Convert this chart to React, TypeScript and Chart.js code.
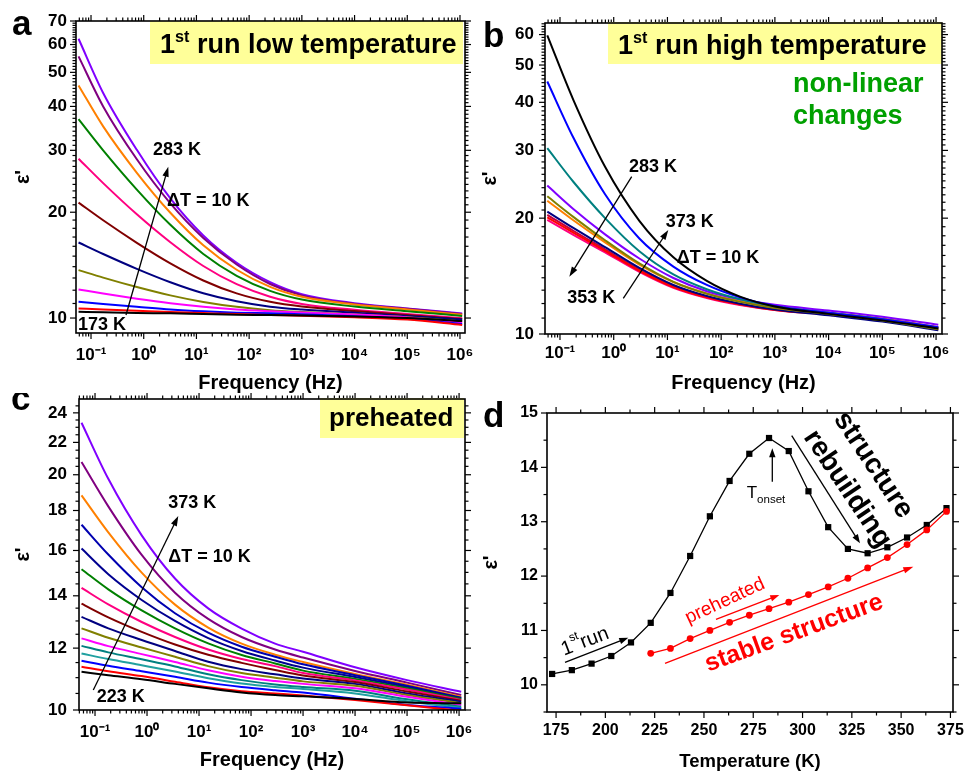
import React, { useEffect, useRef } from "react";
import { Chart, registerables } from "chart.js";
Chart.register(...registerables);

const FONT = "'Liberation Sans', Arial, Helvetica, sans-serif";

// ---------------- Panel a : 1st run low temperature (173 K .. 283 K) ----------------
const freqA = [0.058, 0.17, 0.74, 3.2, 13.5, 58, 250, 1000, 1e4, 1e5, 1.1e6];
const a173 = [10.42, 10.38, 10.33, 10.31, 10.26, 10.22, 10.2, 10.17, 10.1, 10.0, 9.8];
const a183 = [10.65, 10.58, 10.49, 10.4, 10.33, 10.26, 10.2, 10.15, 10.05, 9.9, 9.55];
const a193 = [11.13, 10.96, 10.77, 10.58, 10.45, 10.36, 10.31, 10.25, 10.12, 9.95, 9.62];
const a203 = [12.06, 11.74, 11.35, 11.02, 10.77, 10.58, 10.46, 10.37, 10.23, 10.04, 9.72];
const a213 = [13.69, 13.03, 12.25, 11.6, 11.11, 10.76, 10.53, 10.4, 10.24, 10.05, 9.78];
const a223 = [16.4, 15.21, 13.8, 12.64, 11.76, 11.16, 10.77, 10.57, 10.35, 10.14, 9.9];
const a233 = [21.3, 18.97, 16.37, 14.31, 12.79, 11.75, 11.12, 10.78, 10.47, 10.2, 9.94];
const a243 = [28.4, 24.2, 19.73, 16.43, 14.06, 12.48, 11.5, 10.97, 10.55, 10.26, 9.99];
const a253 = [36.8, 30.0, 23.2, 18.42, 15.22, 13.19, 11.95, 11.29, 10.78, 10.46, 10.14];
const a263 = [45.9, 35.1, 25.9, 19.93, 16.1, 13.72, 12.26, 11.49, 10.92, 10.58, 10.22];
const a273 = [55.5, 40.0, 28.3, 21.2, 16.9, 14.2, 12.5, 11.6, 10.97, 10.62, 10.27];
const a283 = [62.3, 43.7, 30.1, 21.9, 17.18, 14.36, 12.65, 11.69, 11.02, 10.65, 10.3];
const seriesA = [a173, a183, a193, a203, a213, a223, a233, a243, a253, a263, a273, a283];
const labelsA = ["173 K", "183 K", "193 K", "203 K", "213 K", "223 K", "233 K", "243 K", "253 K", "263 K", "273 K", "283 K"];
const colorsA = ["#000000", "#FF0000", "#0000FF", "#FF00FF", "#808000", "#000080", "#800000", "#FF0080", "#008000", "#FF8000", "#800080", "#8000FF"];

// ---------------- Panel b : 1st run high temperature (283 K .. 373 K) ----------------
const freqB = [0.058, 0.177, 0.69, 3, 12.9, 54, 224, 1000, 1e4, 1e5, 1.1e6];
const b283 = [59.7, 40.6, 27.2, 19.69, 15.82, 13.74, 12.51, 11.79, 11.28, 10.85, 10.34];
const b293 = [45.3, 32.4, 23.07, 17.71, 14.97, 13.41, 12.45, 11.83, 11.35, 10.92, 10.41];
const b303 = [30.4, 24.87, 20.01, 16.41, 14.28, 13.07, 12.31, 11.81, 11.35, 10.92, 10.36];
const b313 = [24.3, 21.13, 18.15, 15.71, 13.98, 12.92, 12.31, 11.91, 11.51, 11.09, 10.57];
const b323 = [22.8, 20.16, 17.52, 15.25, 13.66, 12.72, 12.12, 11.69, 11.27, 10.84, 10.28];
const b333 = [22.2, 19.75, 17.3, 15.15, 13.65, 12.75, 12.18, 11.77, 11.37, 10.95, 10.42];
const b343 = [20.8, 18.86, 16.82, 14.85, 13.41, 12.55, 11.99, 11.57, 11.18, 10.77, 10.22];
const b353 = [20.1, 18.35, 16.45, 14.6, 13.25, 12.45, 11.93, 11.55, 11.22, 10.83, 10.28];
const b363 = [19.8, 18.1, 16.3, 14.5, 13.18, 12.4, 11.9, 11.55, 11.27, 10.9, 10.35];
const b373 = [20.4, 18.55, 16.6, 14.7, 13.33, 12.5, 11.97, 11.6, 11.33, 10.95, 10.4];
const seriesB = [b283, b293, b303, b313, b323, b333, b343, b353, b363, b373];
const labelsB = ["283 K", "293 K", "303 K", "313 K", "323 K", "333 K", "343 K", "353 K", "363 K", "373 K"];
const colorsB = ["#000000", "#0000FF", "#008080", "#8000FF", "#808000", "#FF8000", "#000080", "#FF0000", "#FF0080", "#C00040"];

// ---------------- Panel c : preheated (223 K .. 373 K) ----------------
const freqC = [0.055, 0.18, 0.79, 3.45, 15, 66, 290, 1000, 1e4, 1e5, 1.1e6];
const c223 = [11.19, 11.08, 10.95, 10.8, 10.66, 10.53, 10.45, 10.41, 10.33, 10.22, 10.2];
const c233 = [11.36, 11.21, 11.05, 10.87, 10.69, 10.57, 10.5, 10.44, 10.3, 10.14, 9.98];
const c243 = [11.56, 11.39, 11.21, 11.03, 10.84, 10.7, 10.6, 10.53, 10.34, 10.15, 10.04];
const c253 = [11.81, 11.62, 11.41, 11.2, 10.98, 10.81, 10.7, 10.64, 10.5, 10.26, 10.06];
const c263 = [12.08, 11.85, 11.61, 11.37, 11.11, 10.92, 10.78, 10.7, 10.58, 10.32, 10.1];
const c273 = [12.35, 12.07, 11.79, 11.52, 11.24, 11.03, 10.89, 10.8, 10.66, 10.4, 10.15];
const c283 = [12.72, 12.37, 12.02, 11.7, 11.38, 11.15, 11.0, 10.88, 10.74, 10.45, 10.2];
const c293 = [13.16, 12.72, 12.29, 11.9, 11.53, 11.28, 11.11, 10.97, 10.8, 10.5, 10.25];
const c303 = [13.68, 13.14, 12.59, 12.13, 11.77, 11.49, 11.25, 11.07, 10.86, 10.56, 10.28];
const c313 = [14.33, 13.65, 12.96, 12.4, 11.95, 11.62, 11.38, 11.15, 10.91, 10.62, 10.3];
const c323 = [15.14, 14.27, 13.41, 12.72, 12.17, 11.76, 11.47, 11.23, 10.96, 10.66, 10.33];
const c333 = [16.09, 14.92, 13.83, 13.0, 12.36, 11.9, 11.57, 11.33, 11.02, 10.7, 10.35];
const c343 = [17.26, 15.81, 14.36, 13.3, 12.56, 12.05, 11.7, 11.44, 11.08, 10.74, 10.37];
const c353 = [18.82, 16.88, 14.99, 13.64, 12.75, 12.16, 11.77, 11.52, 11.12, 10.77, 10.4];
const c363 = [20.76, 18.22, 15.79, 14.13, 13.08, 12.4, 11.95, 11.67, 11.22, 10.84, 10.45];
const c373 = [23.31, 19.76, 16.73, 14.73, 13.49, 12.71, 12.16, 11.87, 11.34, 10.92, 10.55];
const seriesC = [c223, c233, c243, c253, c263, c273, c283, c293, c303, c313, c323, c333, c343, c353, c363, c373];
const labelsC = ["223 K", "233 K", "243 K", "253 K", "263 K", "273 K", "283 K", "293 K", "303 K", "313 K", "323 K", "333 K", "343 K", "353 K", "363 K", "373 K"];
const colorsC = ["#000000", "#FF0000", "#0000FF", "#20A0A0", "#008080", "#FF00FF", "#808000", "#000080", "#800000", "#FF0080", "#008000", "#000090", "#0000B0", "#FF8000", "#800080", "#8000FF"];

// ---------------- Panel d : eps' vs temperature ----------------
const tempFirstRun = [173, 183, 193, 203, 213, 223, 233, 243, 253, 263, 273, 283, 293, 303, 313, 323, 333, 343, 353, 363, 373];
const epsFirstRun = [10.2, 10.27, 10.39, 10.53, 10.78, 11.14, 11.69, 12.37, 13.1, 13.75, 14.25, 14.54, 14.3, 13.56, 12.9, 12.5, 12.42, 12.53, 12.71, 12.94, 13.25];
const tempPreheated = [223, 233, 243, 253, 263, 273, 283, 293, 303, 313, 323, 333, 343, 353, 363, 373];
const epsPreheated = [10.58, 10.67, 10.85, 11.0, 11.15, 11.28, 11.4, 11.52, 11.66, 11.8, 11.96, 12.15, 12.34, 12.58, 12.85, 13.19];

// ---------------- Tick values / labels ----------------
const xTickExps = [-1, 0, 1, 2, 3, 4, 5, 6];
const supMap: Record<string, string> = { "-": "\u207B", "0": "\u2070", "1": "\u00B9", "2": "\u00B2", "3": "\u00B3", "4": "\u2074", "5": "\u2075", "6": "\u2076", "7": "\u2077", "8": "\u2078", "9": "\u2079" };
const xTickVals = xTickExps.map((e) => Math.pow(10, e));
const xTickLabels = xTickExps.map((e) => "10" + String(e).split("").map((c) => supMap[c]).join(""));
const yTicksA = [10, 20, 30, 40, 50, 60, 70];
const yTicksB = [10, 20, 30, 40, 50, 60];
const yTicksC = [10, 12, 14, 16, 18, 20, 22, 24];
const xTicksD = [175, 200, 225, 250, 275, 300, 325, 350, 375];
const yTicksD = [10, 11, 12, 13, 14, 15];

function logMinor(min: number, max: number): number[] {
  const out: number[] = [];
  for (let e = -3; e <= 7; e++)
    for (let m = 2; m <= 9; m++) {
      const v = m * Math.pow(10, e);
      if (v > min && v < max) out.push(v);
    }
  return out;
}
function stepTicks(from: number, to: number, step: number, skip: number[]): number[] {
  const out: number[] = [];
  for (let v = from; v <= to + 1e-9; v += step) {
    const r = Math.round(v * 1000) / 1000;
    if (!skip.some((s) => Math.abs(s - r) < 1e-6)) out.push(r);
  }
  return out;
}

// ---------------- Annotation drawing plugin ----------------
type Seg = { t: string; s?: number; dy?: number };
type Ann = any;

function drawText(ctx: CanvasRenderingContext2D, a: Ann, ox: number, oy: number) {
  const w = a.weight || "bold";
  const widths = a.segs.map((s: Seg) => {
    ctx.font = `${w} ${a.size * (s.s ?? 1)}px ${FONT}`;
    return ctx.measureText(s.t).width;
  });
  const total = widths.reduce((p: number, c: number) => p + c, 0);
  ctx.save();
  ctx.translate(a.x - ox, a.y - oy);
  if (a.rot) ctx.rotate((a.rot * Math.PI) / 180);
  ctx.fillStyle = a.color || "#000";
  ctx.textBaseline = a.base || "alphabetic";
  ctx.textAlign = "left";
  let cx = a.align === "center" ? -total / 2 : 0;
  a.segs.forEach((s: Seg, i: number) => {
    ctx.font = `${w} ${a.size * (s.s ?? 1)}px ${FONT}`;
    ctx.fillText(s.t, cx, (s.dy || 0) * a.size);
    cx += widths[i];
  });
  ctx.restore();
}

function drawArrow(ctx: CanvasRenderingContext2D, a: Ann, ox: number, oy: number) {
  const x1 = a.x1 - ox, y1 = a.y1 - oy, x2 = a.x2 - ox, y2 = a.y2 - oy;
  const ang = Math.atan2(y2 - y1, x2 - x1);
  const hl = a.head ?? 10, hw = a.hw ?? 3.2;
  const bx = x2 - hl * Math.cos(ang), by = y2 - hl * Math.sin(ang);
  ctx.save();
  ctx.strokeStyle = a.color || "#000";
  ctx.fillStyle = a.color || "#000";
  ctx.lineWidth = a.lw ?? 1.3;
  ctx.beginPath();
  ctx.moveTo(x1, y1);
  ctx.lineTo(bx + 1 * Math.cos(ang), by + 1 * Math.sin(ang));
  ctx.stroke();
  ctx.beginPath();
  ctx.moveTo(x2, y2);
  ctx.lineTo(bx + hw * Math.sin(ang), by - hw * Math.cos(ang));
  ctx.lineTo(bx - hw * Math.sin(ang), by + hw * Math.cos(ang));
  ctx.closePath();
  ctx.fill();
  ctx.restore();
}

const framePlugin = {
  id: "frame",
  afterDraw(chart: any, _args: any, opts: any) {
    const ctx: CanvasRenderingContext2D = chart.ctx;
    const ca = chart.chartArea;
    const xs = chart.scales.x, ys = chart.scales.y;
    const ox = opts.ox || 0, oy = opts.oy || 0;
    ctx.save();
    ctx.strokeStyle = "#000";
    ctx.lineWidth = 1.2;
    const seg = (x1: number, y1: number, x2: number, y2: number) => {
      ctx.beginPath();
      ctx.moveTo(x1, y1);
      ctx.lineTo(x2, y2);
      ctx.stroke();
    };
    const xt = (vals: number[], len: number) =>
      vals.forEach((v) => {
        const p = xs.getPixelForValue(v);
        if (p < ca.left - 0.5 || p > ca.right + 0.5) return;
        seg(p, ca.bottom, p, ca.bottom + len);
        seg(p, ca.top, p, ca.top - len);
      });
    const yt = (vals: number[], len: number) =>
      vals.forEach((v) => {
        const p = ys.getPixelForValue(v);
        if (p < ca.top - 0.5 || p > ca.bottom + 0.5) return;
        seg(ca.left, p, ca.left - len, p);
        seg(ca.right, p, ca.right + len, p);
      });
    xt(opts.xMajor, 6);
    xt(opts.xMinor, 3.5);
    yt(opts.yMajor, 6);
    yt(opts.yMinor, 3.5);
    const anns: Ann[] = opts.ann || [];
    anns.forEach((a) => {
      if (a.kind === "rect") {
        ctx.fillStyle = a.fill;
        ctx.fillRect(a.x - ox, a.y - oy, a.w, a.h);
      }
    });
    ctx.lineWidth = 1.6;
    ctx.strokeRect(ca.left, ca.top, ca.right - ca.left, ca.bottom - ca.top);
    anns.forEach((a) => {
      if (a.kind === "arrow") drawArrow(ctx, a, ox, oy);
      if (a.kind === "text") drawText(ctx, a, ox, oy);
    });
    ctx.restore();
  },
};

const K = (t: string) => [{ t }];
const first = (rest: string): Seg[] => [{ t: "1" }, { t: "st", s: 0.6, dy: -0.42 }, { t: rest }];

const annA: Ann[] = [
  { kind: "rect", x: 150, y: 21, w: 313, h: 43, fill: "#FFFF99" },
  { kind: "text", x: 160, y: 53, size: 27, segs: first(" run low temperature") },
  { kind: "text", x: 12, y: 35, size: 35, segs: K("a") },
  { kind: "arrow", x1: 126, y1: 315, x2: 168.3, y2: 166.7 },
  { kind: "text", x: 153, y: 155, size: 18, segs: K("283 K") },
  { kind: "text", x: 167, y: 206, size: 18, segs: K("\u0394T = 10 K") },
  { kind: "text", x: 78, y: 330, size: 18, segs: K("173 K") },
];
const annB: Ann[] = [
  { kind: "rect", x: 608, y: 22, w: 334, h: 42, fill: "#FFFF99" },
  { kind: "text", x: 618, y: 54.3, size: 27, segs: first(" run high temperature") },
  { kind: "text", x: 483, y: 46.7, size: 35, segs: K("b") },
  { kind: "text", x: 793, y: 91.7, size: 27, color: "#00A000", segs: K("non-linear") },
  { kind: "text", x: 793, y: 124, size: 27, color: "#00A000", segs: K("changes") },
  { kind: "text", x: 629, y: 171.7, size: 18, segs: K("283 K") },
  { kind: "arrow", x1: 631.7, y1: 176.7, x2: 569.3, y2: 276.7 },
  { kind: "text", x: 665.7, y: 226.7, size: 18, segs: K("373 K") },
  { kind: "arrow", x1: 623.3, y1: 298.3, x2: 668.3, y2: 230 },
  { kind: "text", x: 676.7, y: 263.3, size: 18, segs: K("\u0394T = 10 K") },
  { kind: "text", x: 567.3, y: 303.3, size: 18, segs: K("353 K") },
];
const annC: Ann[] = [
  { kind: "rect", x: 320, y: 398, w: 144, h: 40, fill: "#FFFF99" },
  { kind: "text", x: 329, y: 426, size: 26, segs: K("preheated") },
  { kind: "text", x: 11, y: 410, size: 35, segs: K("c") },
  { kind: "text", x: 168.3, y: 508.3, size: 18, segs: K("373 K") },
  { kind: "arrow", x1: 93.3, y1: 690, x2: 178.3, y2: 516 },
  { kind: "text", x: 168.3, y: 561.7, size: 18, segs: K("\u0394T = 10 K") },
  { kind: "text", x: 96.7, y: 701.7, size: 18, segs: K("223 K") },
];
const annD: Ann[] = [
  { kind: "text", x: 483, y: 427, size: 35, segs: K("d") },
  { kind: "text", x: 746.7, y: 498.3, size: 17, weight: "normal", segs: [{ t: "T" }, { t: "onset", s: 0.68, dy: 0.28 }] },
  { kind: "arrow", x1: 772.3, y1: 481.7, x2: 772.3, y2: 448.3, head: 9 },
  { kind: "text", x: 873.3, y: 465, size: 28, rot: 56.5, align: "center", base: "middle", segs: K("structure") },
  { kind: "text", x: 847.3, y: 489, size: 28, rot: 56, align: "center", base: "middle", segs: K("rebuilding") },
  { kind: "arrow", x1: 791.7, y1: 435.7, x2: 860, y2: 543.3, head: 9 },
  { kind: "text", x: 585, y: 641.7, size: 20, weight: "normal", rot: -21, align: "center", base: "middle", segs: [{ t: "1" }, { t: "st", s: 0.6, dy: -0.42 }, { t: "run" }] },
  { kind: "arrow", x1: 565, y1: 662.3, x2: 628.3, y2: 637.7, head: 9 },
  { kind: "text", x: 725, y: 601, size: 19, weight: "normal", rot: -25, align: "center", base: "middle", color: "#FF0000", segs: K("preheated") },
  { kind: "arrow", x1: 716, y1: 619.3, x2: 779.3, y2: 595, color: "#FF0000", head: 9 },
  { kind: "text", x: 794, y: 633.3, size: 25, rot: -20, align: "center", base: "middle", color: "#FF0000", segs: K("stable structure") },
  { kind: "arrow", x1: 665, y1: 663.3, x2: 913.3, y2: 566.7, color: "#FF0000", head: 10 },
];

function xLabel(v: number): string {
  const i = xTickVals.findIndex((t) => Math.abs(Math.log10(t) - Math.log10(v)) < 1e-6);
  return i >= 0 ? xTickLabels[i] : "";
}

function freqChart(canvas: HTMLCanvasElement, cfg: any): Chart {
  const datasets = cfg.series.map((vals: number[], i: number) => ({
    label: cfg.labels[i],
    data: cfg.freq.map((f: number, j: number) => ({ x: f, y: vals[j] })),
    borderColor: cfg.colors[i],
    backgroundColor: cfg.colors[i],
    borderWidth: 2,
    pointRadius: 0,
    cubicInterpolationMode: "monotone",
    fill: false,
  }));
  const tickFont = { family: FONT, size: 17, weight: "bold" };
  return new Chart(canvas, {
    type: "line",
    data: { datasets },
    options: {
      animation: false,
      responsive: false,
      devicePixelRatio: 1,
      events: [],
      layout: { padding: cfg.pad },
      plugins: {
        legend: { display: false },
        tooltip: { enabled: false },
        frame: {
          ox: cfg.ox, oy: cfg.oy, ann: cfg.ann,
          xMajor: xTickVals, xMinor: logMinor(cfg.xmin, cfg.xmax),
          yMajor: cfg.yTicks, yMinor: cfg.yMinor,
        },
      } as any,
      scales: {
        x: {
          type: "logarithmic", min: cfg.xmin, max: cfg.xmax, bounds: "data",
          grid: { display: false, drawTicks: false }, border: { display: false },
          afterBuildTicks: (s: any) => { s.ticks = xTickVals.map((v) => ({ value: v })); },
          afterFit: (s: any) => { s.height = cfg.xh; s.paddingLeft = 0; s.paddingRight = 0; },
          ticks: { autoSkip: false, maxRotation: 0, minRotation: 0, padding: cfg.xtPad, color: "#000", font: tickFont, callback: (v: any) => xLabel(Number(v)) },
          title: { display: true, text: "Frequency (Hz)", color: "#000", font: { family: FONT, size: 20, weight: "bold", lineHeight: 1 }, padding: { top: 0, bottom: cfg.xTitlePad } },
        },
        y: {
          type: "logarithmic", min: cfg.ymin, max: cfg.ymax, bounds: "data",
          grid: { display: false, drawTicks: false }, border: { display: false },
          afterBuildTicks: (s: any) => { s.ticks = cfg.yTicks.map((v: number) => ({ value: v })); },
          afterFit: (s: any) => { s.width = cfg.yw; s.paddingTop = 0; s.paddingBottom = 0; },
          ticks: { autoSkip: false, padding: cfg.ytPad, color: "#000", font: tickFont, callback: (v: any) => String(Number(v)) },
          title: { display: true, text: "\u03B5'", color: "#000", font: { family: FONT, size: 20, weight: "bold", lineHeight: 1 }, padding: { top: cfg.yTitlePad, bottom: 0 } },
        },
      },
    } as any,
    plugins: [framePlugin as any],
  });
}

function tempChart(canvas: HTMLCanvasElement): Chart {
  const tickFont = { family: FONT, size: 16, weight: "bold" };
  return new Chart(canvas, {
    type: "line",
    data: {
      datasets: [
        {
          label: "preheated",
          data: tempPreheated.map((t, i) => ({ x: t, y: epsPreheated[i] })),
          borderColor: "#FF0000", backgroundColor: "#FF0000", borderWidth: 1.3,
          pointStyle: "circle", pointRadius: 3.4, pointBorderWidth: 0, tension: 0,
        },
        {
          label: "1st run",
          data: tempFirstRun.map((t, i) => ({ x: t, y: epsFirstRun[i] })),
          borderColor: "#000000", backgroundColor: "#000000", borderWidth: 1.3,
          pointStyle: "rect", pointRadius: 4.4, pointBorderWidth: 0, tension: 0,
        },
      ] as any,
    },
    options: {
      animation: false,
      responsive: false,
      devicePixelRatio: 1,
      events: [],
      layout: { padding: { left: 0, right: 14, top: 20, bottom: 0 } },
      plugins: {
        legend: { display: false },
        tooltip: { enabled: false },
        frame: {
          ox: 480, oy: 393, ann: annD,
          xMajor: xTicksD, xMinor: stepTicks(187.5, 362.5, 25, []),
          yMajor: yTicksD, yMinor: stepTicks(9.5, 14.5, 1, []),
        },
      } as any,
      scales: {
        x: {
          type: "linear", min: 170.4, max: 376.3, bounds: "data",
          grid: { display: false, drawTicks: false }, border: { display: false },
          afterBuildTicks: (s: any) => { s.ticks = xTicksD.map((v) => ({ value: v })); },
          afterFit: (s: any) => { s.height = 61; s.paddingLeft = 0; s.paddingRight = 0; },
          ticks: { autoSkip: false, maxRotation: 0, minRotation: 0, padding: 9, color: "#000", font: tickFont, callback: (v: any) => String(Number(v)) },
          title: { display: true, text: "Temperature (K)", color: "#000", font: { family: FONT, size: 18.5, weight: "bold", lineHeight: 1 }, padding: { top: 0, bottom: 2 } },
        },
        y: {
          type: "linear", min: 9.5, max: 15, bounds: "data",
          grid: { display: false, drawTicks: false }, border: { display: false },
          afterBuildTicks: (s: any) => { s.ticks = yTicksD.map((v) => ({ value: v })); },
          afterFit: (s: any) => { s.width = 67; s.paddingTop = 0; s.paddingBottom = 0; },
          ticks: { autoSkip: false, padding: 9, color: "#000", font: tickFont, callback: (v: any) => String(Number(v)) },
          title: { display: true, text: "\u03B5'", color: "#000", font: { family: FONT, size: 20, weight: "bold", lineHeight: 1 }, padding: { top: 1, bottom: 0 } },
        },
      },
    } as any,
    plugins: [framePlugin as any],
  });
}

export default function App() {
  const ra = useRef<HTMLCanvasElement>(null);
  const rb = useRef<HTMLCanvasElement>(null);
  const rc = useRef<HTMLCanvasElement>(null);
  const rd = useRef<HTMLCanvasElement>(null);

  useEffect(() => {
    const charts: Chart[] = [];
    charts.push(
      freqChart(ra.current!, {
        freq: freqA, series: seriesA, labels: labelsA, colors: colorsA,
        xmin: 0.0519, xmax: 1.245e6, ymin: 9.066, ymax: 70,
        yTicks: yTicksA, yMinor: stepTicks(11, 69, 1, yTicksA),
        pad: { left: 0, right: 15, top: 21, bottom: 0 }, yw: 76, xh: 60,
        ytPad: 9, xtPad: 12, xTitlePad: 0, yTitlePad: 13, ox: 0, oy: 0, ann: annA,
      })
    );
    charts.push(
      freqChart(rb.current!, {
        freq: freqB, series: seriesB, labels: labelsB, colors: colorsB,
        xmin: 0.0526, xmax: 1.29e6, ymin: 10, ymax: 64.3,
        yTicks: yTicksB, yMinor: stepTicks(11, 64, 1, yTicksB),
        pad: { left: 0, right: 25, top: 23, bottom: 0 }, yw: 65, xh: 59,
        ytPad: 11, xtPad: 9, xTitlePad: 0, yTitlePad: 0, ox: 480, oy: 0, ann: annB,
      })
    );
    charts.push(
      freqChart(rc.current!, {
        freq: freqC, series: seriesC, labels: labelsC, colors: colorsC,
        xmin: 0.0492, xmax: 1.3e6, ymin: 10, ymax: 25,
        yTicks: yTicksC, yMinor: stepTicks(10.5, 24.5, 0.5, yTicksC),
        pad: { left: 0, right: 15, top: 6, bottom: 0 }, yw: 79, xh: 63,
        ytPad: 12, xtPad: 12, xTitlePad: 3, yTitlePad: 13, ox: 0, oy: 393, ann: annC,
      })
    );
    charts.push(tempChart(rd.current!));
    return () => charts.forEach((c) => c.destroy());
  }, []);

  const cs = (l: number, t: number, w: number, h: number): React.CSSProperties => ({
    position: "absolute", left: l, top: t, width: w, height: h, display: "block",
  });

  return (
    <div style={{ position: "fixed", left: 0, top: 0, width: 967, height: 773, background: "#fff", overflow: "hidden" }}>
      <canvas ref={ra} width={480} height={393} style={cs(0, 0, 480, 393)} />
      <canvas ref={rb} width={487} height={393} style={cs(480, 0, 487, 393)} />
      <canvas ref={rc} width={480} height={380} style={cs(0, 393, 480, 380)} />
      <canvas ref={rd} width={487} height={380} style={cs(480, 393, 487, 380)} />
    </div>
  );
}
